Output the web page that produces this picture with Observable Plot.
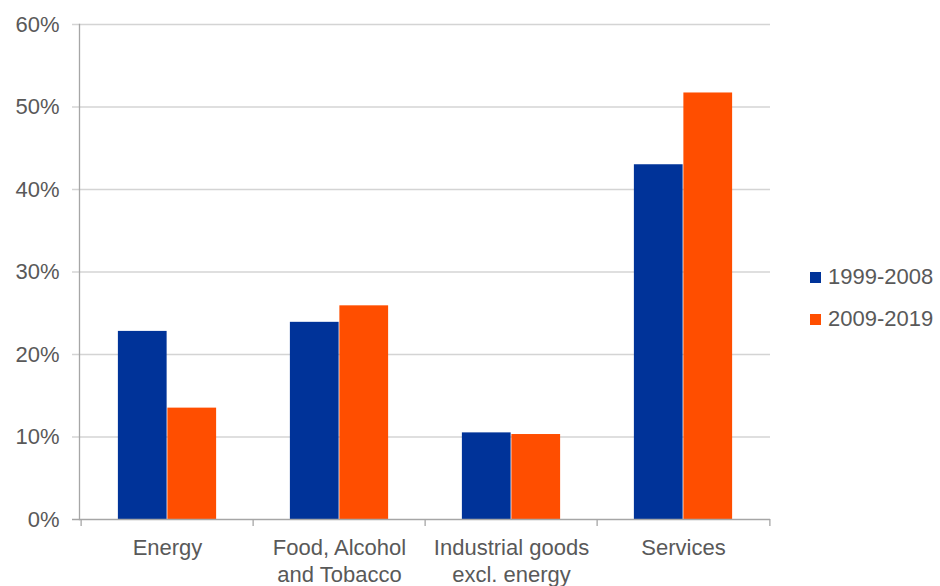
<!DOCTYPE html>
<html>
<head>
<meta charset="utf-8">
<script src="https://cdn.jsdelivr.net/npm/d3@7"></script>
<script src="https://cdn.jsdelivr.net/npm/@observablehq/plot@0.6"></script>
<style>
  body { margin: 0; background: #fff; }
  #wrap { position: relative; width: 940px; height: 586px; font-family: Arial, "Liberation Sans", sans-serif; }
  #legend { position: absolute; left: 810px; top: 256px; font-size: 22px; color: #595959; }
  #legend div { display: flex; align-items: center; height: 42px; }
  #legend span.sw { display: inline-block; width: 11px; height: 11px; margin-right: 7px; }
</style>
</head>
<body>
<div id="wrap"><div id="legend"></div></div>
<script>
const categories = ["Energy", "Food, Alcohol\nand Tobacco", "Industrial goods\nexcl. energy", "Services"];
const series = ["1999-2008", "2009-2019"];
const values1999 = [22.8, 23.9, 10.5, 43.0];
const values2009 = [13.5, 25.9, 10.3, 51.7];
const yTicks = [0, 10, 20, 30, 40, 50, 60];
const colors = ["#003399", "#ff4e00"];

const W = 940, H = 586;
const mL = 79, mR = 170, mT = 24, mB = 67;
const bw = (W - mL - mR) / categories.length;
const barW = bw * 0.2865;
const gap = (bw - 2 * barW) / 2;

const rows1 = categories.map((c, i) => ({category: c, value: values1999[i]}));
const rows2 = categories.map((c, i) => ({category: c, value: values2009[i]}));

const textColor = "#595959";
const plot = Plot.plot({
  width: W, height: H,
  marginLeft: mL, marginRight: mR, marginTop: mT, marginBottom: mB,
  style: {fontFamily: "Arial, 'Liberation Sans', sans-serif", fontSize: "22px", color: textColor, background: "transparent", overflow: "visible"},
  x: {domain: categories, padding: 0, axis: null, label: null},
  y: {domain: [0, 60], axis: null, label: null},
  marks: [
    Plot.ruleY(yTicks.slice(1), {stroke: "#d4d4d4", strokeWidth: 1.3, insetLeft: -7}),
    Plot.barY(rows1, {x: "category", y: "value", fill: colors[0], insetLeft: gap, insetRight: bw - gap - barW}),
    Plot.barY(rows2, {x: "category", y: "value", fill: colors[1], insetLeft: gap + barW, insetRight: gap}),
    Plot.axisY(yTicks, {tickSize: 0, tickPadding: 20, tickFormat: d => d + "%", fontSize: 22, fill: textColor, label: null}),
    Plot.ruleY([0], {stroke: "#a6a6a6", strokeWidth: 1.3, insetLeft: -7}),
    Plot.frame({anchor: "left", stroke: "#a6a6a6", strokeWidth: 1.3}),
    Plot.axisX(categories, {tickSize: 7, tickFormat: () => "", dx: -bw / 2, stroke: "#a6a6a6", strokeWidth: 1.3, strokeOpacity: 1, label: null}),
    Plot.axisX(categories.slice(-1), {tickSize: 7, tickFormat: () => "", dx: bw / 2, stroke: "#a6a6a6", strokeWidth: 1.3, strokeOpacity: 1, label: null}),
    Plot.text(categories, {x: d => d, frameAnchor: "bottom", lineAnchor: "top", dy: 16, lineHeight: 1.23, fontSize: 22, fill: textColor})
  ]
});
document.getElementById("wrap").prepend(plot);

const legend = document.getElementById("legend");
series.forEach((s, i) => {
  const row = document.createElement("div");
  row.innerHTML = `<span class="sw" style="background:${colors[i]}"></span>${s}`;
  legend.appendChild(row);
});
</script>
</body>
</html>
